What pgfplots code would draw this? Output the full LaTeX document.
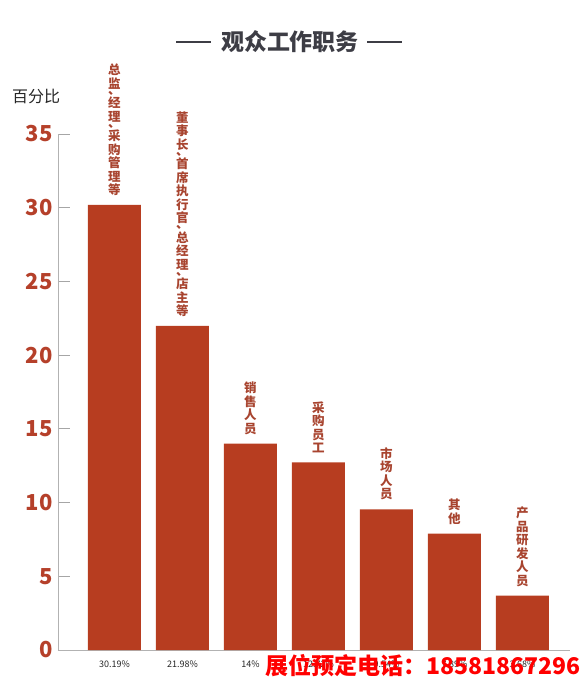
\documentclass[border=0pt]{standalone}
\usepackage{fontspec}
\setmainfont{Noto Sans CJK SC}
\usepackage{pgfplots}
\usetikzlibrary{calc}
\pgfplotsset{compat=1.18}
\definecolor{barc}{HTML}{B73D20}
\definecolor{labc}{HTML}{A8442F}
\definecolor{tickc}{HTML}{B5402A}
\definecolor{titlec}{HTML}{3D3D45}
\newcommand\labA{总\\监\\[-7.5pt]、\\经\\理\\[-7.5pt]、\\采\\购\\管\\理\\等}
\newcommand\labB{董\\事\\长\\[-7.5pt]、\\首\\席\\执\\行\\官\\[-7.5pt]、\\总\\经\\理\\[-7.5pt]、\\店\\主\\等}
\newcommand\labC{销\\售\\人\\员}
\newcommand\labD{采\\购\\员\\工}
\newcommand\labE{市\\场\\人\\员}
\newcommand\labF{其\\他}
\newcommand\labG{产\\品\\研\\发\\人\\员}
\begin{document}
\begin{tikzpicture}[x=1pt,y=1pt]
\begin{axis}[scale only axis,
  width=512pt, height=516pt,
  xmin=-0.83, xmax=6.70, ymin=0, ymax=35,
  axis x line*=bottom, axis y line*=left,
  axis line style={draw=gray!60, line width=0.8pt, -},
  ytick={0,5,...,35}, tick align=inside,
  y tick style={draw=gray!70, line width=0.8pt},
  major tick length=12pt,
  xtick=data,
  xticklabels={30.19\%,21.98\%,14\%,12.72\%,9.54\%,7.89\%,3.68\%},
  x tick style={draw=none},
  /pgf/number format/assume math mode=true,
  yticklabel style={font=\bfseries\fontsize{22}{22}\selectfont, text=tickc, xshift=-2pt},
  xticklabel style={font=\fontsize{9}{9}\selectfont, text=black!85, yshift=5pt},
  ybar, bar width=53pt, bar shift=0pt, clip=false,
  point meta=explicit symbolic,
  nodes near coords={\csname lab\pgfplotspointmeta\endcsname},
  every node near coord/.append style={anchor=south, align=center, inner sep=0pt, yshift=9pt,
    font=\bfseries\fontsize{12.5}{13.5}\selectfont, text=labc}]
\addplot[fill=barc, draw=none] coordinates {
  (0,30.19) [A]
  (1,21.98) [B]
  (2,14.00) [C]
  (3,12.72) [D]
  (4,9.54) [E]
  (5,7.89) [F]
  (6,3.68) [G]
};
\coordinate (C0) at (axis description cs:0,0);
\end{axis}
\begin{scope}[shift={($(C0)+(-58,-31)$)}]
\node[font=\bfseries\fontsize{23}{23}\selectfont, text=titlec] at (290,639) {观众工作职务};
\draw[titlec, line width=2.5pt] (176,639)--(211,639);
\draw[titlec, line width=2.5pt] (367,639)--(402,639);
\node[anchor=west, font=\fontsize{16}{16}\selectfont, text=black!85, inner sep=0pt] at (12,585) {百分比};
\node[anchor=east, text=red, font=\bfseries\fontsize{23}{23}\selectfont, inner sep=0pt] at (581,15) {展位预定电话：18581867296};
\pgfresetboundingbox
\useasboundingbox (0,0) rectangle (586,681);
\end{scope}
\end{tikzpicture}
\end{document}
